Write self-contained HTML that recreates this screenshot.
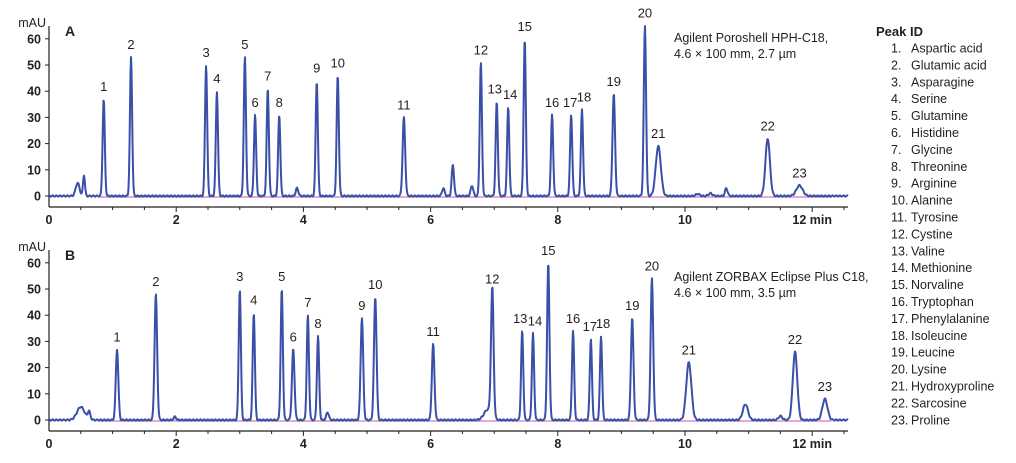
<!DOCTYPE html>
<html><head><meta charset="utf-8"><style>
html,body{margin:0;padding:0;background:#fff}
svg{display:block}
text{font-family:"Liberation Sans",sans-serif;fill:#231f20}
</style></head><body>
<svg id="s" width="1016" height="463" viewBox="0 0 1016 463" xmlns="http://www.w3.org/2000/svg">
<g id="g"></g>
<text x="876" y="36" font-size="13" font-weight="bold">Peak ID</text>
<text x="674" y="42" font-size="12.5">Agilent Poroshell HPH-C18,</text>
<text x="674" y="58" font-size="12.5">4.6 × 100 mm, 2.7 µm</text>
<text x="674" y="281" font-size="12.5">Agilent ZORBAX Eclipse Plus C18,</text>
<text x="674" y="297" font-size="12.5">4.6 × 100 mm, 3.5 µm</text>
</svg>
<script>
var NS="http://www.w3.org/2000/svg",g=document.getElementById('g');
function el(t,a,txt){var e=document.createElementNS(NS,t);for(var k in a)e.setAttribute(k,a[k]);if(txt!=null)e.textContent=txt;g.appendChild(e);return e;}
var names=["Aspartic acid","Glutamic acid","Asparagine","Serine","Glutamine","Histidine","Glycine","Threonine","Arginine","Alanine","Tyrosine","Cystine","Valine","Methionine","Norvaline","Tryptophan","Phenylalanine","Isoleucine","Leucine","Lysine","Hydroxyproline","Sarcosine","Proline"];
for(var i=0;i<23;i++){var y=52.5+i*16.9;
el('text',{x:891,y:y,'font-size':12.5},(i+1)+'.');
el('text',{x:911,y:y,'font-size':12.5},names[i]);}
var PX=63.6,X0=49;
function chart(y0,axisY,letter,peaks,extra){
  var s=2.62;
  el('line',{x1:X0,y1:y0-170,x2:X0,y2:axisY,stroke:'#231f20','stroke-width':1.2});
  el('line',{x1:X0,y1:axisY,x2:848,y2:axisY,stroke:'#231f20','stroke-width':1.2});
  el('text',{x:X0-3,y:y0-173+4,'font-size':12.5,'text-anchor':'end'},'mAU');
  el('text',{x:65,y:y0-160,'font-size':14,'font-weight':'bold'},letter);
  for(var v=0;v<=60;v+=10){var yy=y0-v*s;
    el('line',{x1:X0-4,y1:yy,x2:X0,y2:yy,stroke:'#231f20','stroke-width':1});
    el('text',{x:X0-8,y:yy+4.5,'font-size':12.5,'text-anchor':'end','font-weight':'bold'},v);}
  for(var t=0.5;t<=12.6;t+=0.5){var xx=X0+t*PX;
    el('line',{x1:xx,y1:axisY,x2:xx,y2:axisY+(t%2==0?5:3),stroke:'#231f20','stroke-width':1});}
  for(var t=0;t<=12;t+=2){
    el('text',{x:X0+t*PX,y:axisY+17,'font-size':12.5,'text-anchor':'middle','font-weight':'bold'},t==12?'12 min':t);}
  el('line',{x1:X0+0.8*PX,y1:y0+1,x2:X0+12.3*PX,y2:y0+1,stroke:'#c0449a','stroke-width':1.3,opacity:0.7});
  var all=peaks.concat(extra),d='';
  for(var px=X0;px<=848;px+=0.5){var t=(px-X0)/PX,v=0;
    for(var j=0;j<all.length;j++){var p=all[j],z=(t-p[0])/p[2];if(Math.abs(z)<6)v+=p[1]*Math.exp(-0.5*z*z);}
    v+=0.25*Math.sin(px*1.7);
    d+=(d?'L':'M')+px.toFixed(1)+' '+(y0-v*s).toFixed(1);}
  el('path',{d:d,fill:'none',stroke:'#3a4fa8','stroke-width':2,'stroke-linejoin':'round'});
  for(var j=0;j<peaks.length;j++){var p=peaks[j];
    el('text',{x:X0+p[0]*PX+(p[3]||0),y:y0-p[1]*s-8,'font-size':13,'text-anchor':'middle'},j+1);}
}
var sh=0.017;
chart(196,207,'A',[[0.86,37,sh],[1.29,53,sh],[2.47,50,sh],[2.64,40,sh],[3.08,53,sh],[3.24,31,sh],[3.44,41,sh],[3.62,31,sh],[4.21,44,sh],[4.54,46,sh],[5.58,30,0.02],[6.79,51,sh],[7.04,36,sh,-2],[7.22,34,sh,2],[7.48,60,sh],[7.91,31,sh],[8.21,31,sh,-1],[8.38,33,sh,2],[8.88,39,0.02],[9.37,65,0.018],[9.58,19,0.04],[11.3,22,0.035],[11.8,4,0.05]],
 [[0.45,5,0.03],[0.55,8,0.015],[3.9,3,0.02],[6.2,3,0.02],[6.35,12,0.018],[6.65,4,0.02],[10.4,1,0.03],[10.65,3,0.02],[10.2,0.8,0.03]]);
chart(420,431,'B',[[1.07,27,0.02],[1.68,48,0.02],[3.0,50,sh],[3.22,41,sh],[3.66,50,sh],[3.84,27,0.02],[4.07,40,sh],[4.23,32,sh],[4.92,39,0.02],[5.13,47,0.02],[6.04,29,0.02],[6.97,49,0.02],[7.44,34,sh,-2],[7.61,33,sh,2],[7.85,60,0.018],[8.24,34,sh],[8.52,31,sh,-1],[8.68,32,sh,2],[9.17,39,0.02],[9.48,54,0.02],[10.06,22,0.04],[11.73,26,0.035],[12.2,8,0.04]],
 [[0.5,5,0.06],[0.63,3,0.02],[1.98,1.2,0.02],[4.38,3,0.02],[6.9,4,0.06],[10.95,6,0.04],[11.5,1.5,0.03]]);
</script>
</body></html>
